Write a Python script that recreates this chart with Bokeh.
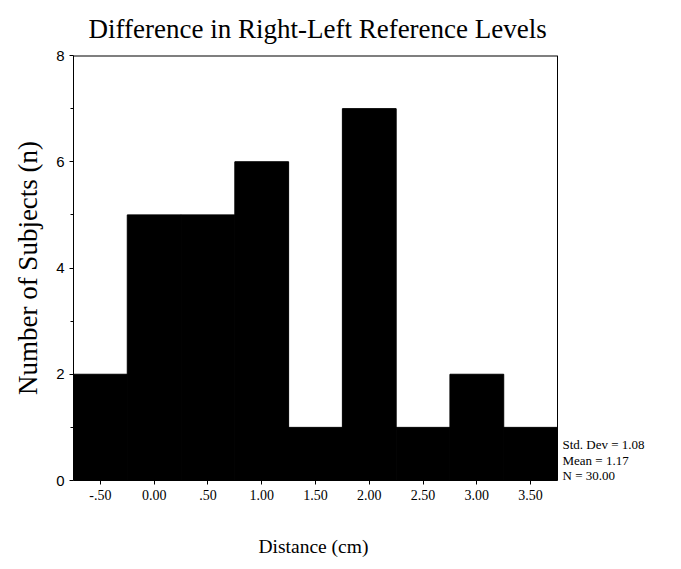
from bokeh.plotting import figure
from bokeh.models import FixedTicker, Range1d, Title
from bokeh.embed import file_html
from bokeh.resources import INLINE

bin_centers = [-0.5, 0.0, 0.5, 1.0, 1.5, 2.0, 2.5, 3.0, 3.5]
counts = [2, 5, 5, 6, 1, 7, 1, 2, 1]
x_tick_labels = ["-.50", "0.00", ".50", "1.00", "1.50", "2.00", "2.50", "3.00", "3.50"]
y_ticks = [0, 2, 4, 6, 8]
stats_lines = ["Std. Dev = 1.08", "Mean = 1.17", "N = 30.00"]
stats_y = [0.67, 0.38, 0.095]

x_lo, x_hi = -0.75, 3.75
y_lo, y_hi = 0, 8
box_w = 484
px_per_unit = box_w / (x_hi - x_lo)
frame_w = 598
x_end = x_lo + frame_w / px_per_unit

p = figure(width=673, height=561, frame_width=frame_w, frame_height=425,
           min_border_left=73, min_border_right=2, min_border_top=55, min_border_bottom=81,
           output_backend="svg", toolbar_location=None,
           x_range=Range1d(x_lo, x_end), y_range=Range1d(y_lo, y_hi),
           title="Difference in Right-Left Reference Levels")

p.vbar(x=bin_centers, top=counts, width=0.5, fill_color="black", line_color="black")

# plot box (right and top edges)
p.segment(x0=[x_hi], y0=[y_lo], x1=[x_hi], y1=[y_hi], line_color="black", line_width=1)
p.segment(x0=[x_lo], y0=[y_hi], x1=[x_hi], y1=[y_hi], line_color="black", line_width=2)

p.text(x=[x_hi] * 3, y=stats_y, text=stats_lines, x_offset=5,
       text_font={"value": "Liberation Serif"}, text_font_size="13px",
       text_baseline="middle", text_color="black")

p.title.text_font = "Liberation Serif"
p.title.text_font_size = "27px"
p.title.text_font_style = "normal"
p.title.text_color = "black"
p.title.align = "left"
p.title.offset = 15
p.title.standoff = 23

xlabel = Title(text="Distance (cm)", align="left", offset=185, standoff=63,
               text_font="Liberation Serif", text_font_size="19.5px",
               text_font_style="normal", text_color="black")
p.add_layout(xlabel, "below")

p.grid.visible = False
p.background_fill_color = "white"
p.border_fill_color = "white"
p.outline_line_color = None

p.xaxis.bounds = (x_lo, x_hi)
p.xaxis.ticker = FixedTicker(ticks=bin_centers)
p.xaxis.major_label_overrides = {c: l for c, l in zip(bin_centers, x_tick_labels)}
p.xaxis.minor_tick_line_color = None
p.xaxis.major_tick_out = 4
p.xaxis.major_tick_in = 0
p.xaxis.major_label_text_font = "Liberation Serif"
p.xaxis.major_label_text_font_size = "14px"

p.yaxis.ticker = FixedTicker(ticks=y_ticks, minor_ticks=[1, 3, 5, 7])
p.yaxis.major_tick_out = 4
p.yaxis.major_tick_in = 0
p.yaxis.minor_tick_out = 3
p.yaxis.minor_tick_in = 0
p.yaxis.major_label_text_font = "Liberation Sans"
p.yaxis.major_label_text_font_size = "15px"
p.yaxis.major_label_standoff = 5
p.yaxis.axis_label = "Number of Subjects (n)"
p.yaxis.axis_label_text_font = "Liberation Serif"
p.yaxis.axis_label_text_font_size = "27px"
p.yaxis.axis_label_text_font_style = "normal"
p.yaxis.axis_label_standoff = 10

for a in (p.xaxis, p.yaxis):
    a.axis_line_color = "black"
    a.major_tick_line_color = "black"
    a.major_label_text_color = "black"
    a.axis_label_text_color = "black"

open("out.html", "w").write(file_html(p, INLINE))
